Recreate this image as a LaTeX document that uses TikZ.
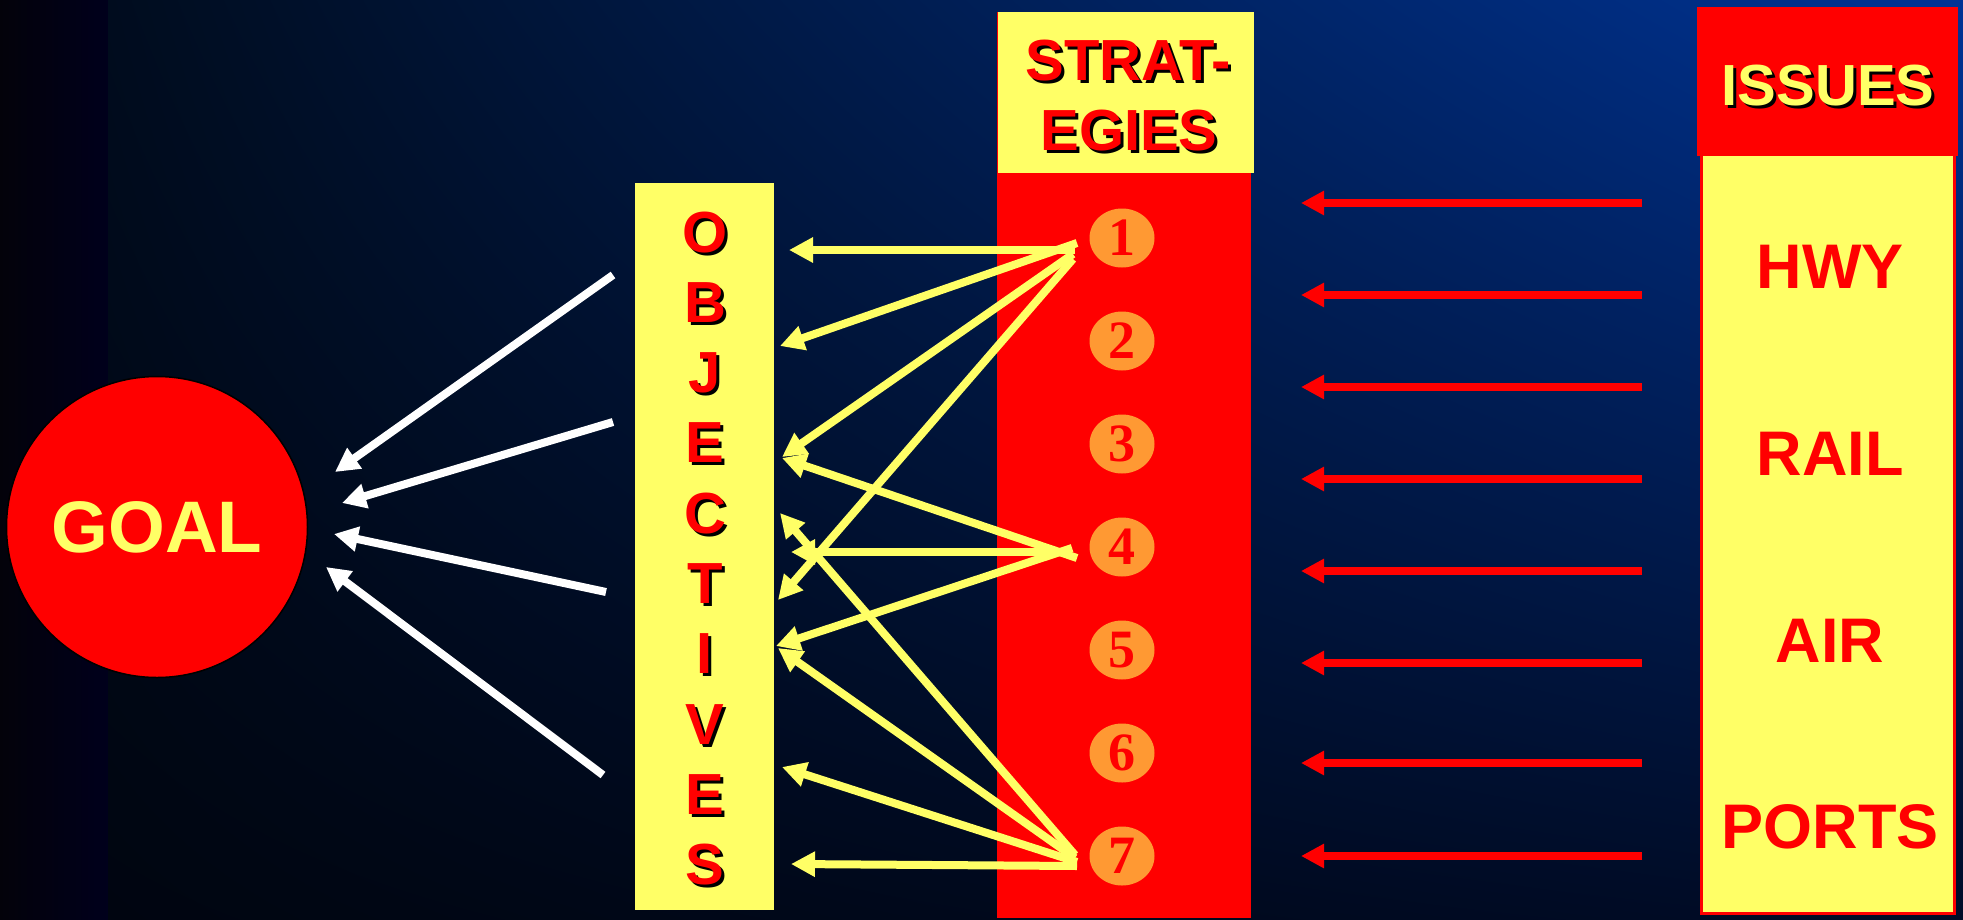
\documentclass[tikz,border=0pt]{standalone}
\usepackage{fontspec}
\setmainfont{Liberation Sans}
\newfontfamily\numfont{Liberation Serif}
\usetikzlibrary{arrows.meta,shapes.geometric,shadings}
\definecolor{ylw}{RGB}{255,255,102}
\definecolor{orng}{RGB}{255,153,51}
\definecolor{bgUL}{RGB}{0,12,30}
\definecolor{bgUR}{RGB}{0,52,150}
\definecolor{bgLL}{RGB}{0,5,16}
\definecolor{bgLR}{RGB}{0,12,40}
\definecolor{stripL}{RGB}{3,2,10}
\definecolor{stripR}{RGB}{0,0,28}
\tikzset{
  ybox/.style={rectangle, fill=ylw, inner sep=0pt, outer sep=0pt},
  rbox/.style={rectangle, fill=red, inner sep=0pt, outer sep=0pt},
  captxt/.style={anchor=base, inner sep=0pt, outer sep=0pt, font=\fontsize{58}{60}\selectfont\bfseries},
  isstxt/.style={anchor=base, inner sep=0pt, outer sep=0pt, text=red, font=\fontsize{63}{65}\selectfont\bfseries},
  numbub/.style={ellipse, fill=orng, minimum width=65pt, minimum height=59pt, inner sep=0pt, text=red, font=\fontsize{54}{56}\numfont\bfseries},
  redarr/.style={draw=red, line width=8pt, -{Triangle[length=23pt,width=23pt]}},
  yarr/.style={draw=ylw, line width=8pt, -{Triangle[length=24pt,width=24pt]}},
  warr/.style={draw=white, line width=8pt, -{Triangle[length=24pt,width=24pt]}}
}
\begin{document}
\begin{tikzpicture}[x=1pt,y=-1pt]
\useasboundingbox (0,0) rectangle (1963,919);
% background
\shade[left color=stripL, right color=stripR] (0,0) rectangle (108,919);
\shade[upper left=bgUL, upper right=bgUR, lower left=bgLL, lower right=bgLR] (108,0) rectangle (1963,919);

% goal
\node[circle, fill=red, draw=black, line width=1.5pt, minimum size=301pt, inner sep=0pt,
      text=ylw, font=\fontsize{73}{75}\selectfont\bfseries] (goal) at (157,527) {GOAL};

% objectives
\node[ybox, minimum width=139pt, minimum height=727pt] (obj) at (704.5,546.5) {};
\foreach \l [count=\i from 0] in {O,B,J,E,C,T,I,V,E,S}{
  \node[captxt, text=black] at (708,{255+70.3*\i}) {\l};
  \node[captxt, text=red] (ol\i) at (705,{252+70.3*\i}) {\l};
}

% strategies
\node[rbox, minimum width=254pt, minimum height=906pt] (strat) at (1124,465) {};
\node[ybox, minimum width=256pt, minimum height=161pt] (shead) at (1126,92.5) {};
\node[captxt, text=black] at (1131,83) {STRAT-};
\node[captxt, text=red] (st1) at (1128,80) {STRAT-};
\node[captxt, text=black] at (1132,153) {EGIES};
\node[captxt, text=red] (st2) at (1129,150) {EGIES};
\foreach \i in {1,...,7}{
  \node[numbub] (s\i) at (1122,{238+103*(\i-1)}) {\i};
}

% issues
\node[ybox, draw=red, line width=3pt, minimum width=253pt, minimum height=763pt] (ibox) at (1827.5,531.5) {};
\node[rbox, minimum width=261pt, minimum height=149pt] (ihead) at (1827.5,81.5) {};
\node[captxt, text=black] at (1831,108) {ISSUES};
\node[captxt, text=ylw] (ititle) at (1828,105) {ISSUES};
\node[isstxt] (hwy) at (1830,288) {HWY};
\node[isstxt] (rail) at (1830,475) {RAIL};
\node[isstxt] (air) at (1830,662) {AIR};
\node[isstxt] (ports) at (1830,848) {PORTS};

% red arrows
\foreach \y [count=\i] in {203,295,387,479,571,663,763,856}{
  \coordinate (rs\i) at (1642,\y);
  \coordinate (rt\i) at (1301,\y);
  \draw[redarr] (rs\i) -- (rt\i);
}

% yellow arrows
\foreach \n/\sx/\sy/\tx/\ty in {
  a/1075/250/789/250, b/1077/243/780/346, c/1073/254/782/457, d/1073/259/778/600,
  e/1068/552/791/552, f/1077/558/782/458, g/1072/548/776/646,
  h/1077/866/791/864, i/1077/862/782/767, j/1075/858/778/648, k/1075/855/780/513}{
  \coordinate (ys\n) at (\sx,\sy);
  \coordinate (yt\n) at (\tx,\ty);
  \draw[yarr] (ys\n) -- (yt\n);
}

% white arrows
\foreach \n/\sx/\sy/\tx/\ty in {
  1/613/275/335/472, 2/613/422/342/503, 3/606/592/334/534, 4/603/775/326/567}{
  \coordinate (ws\n) at (\sx,\sy);
  \coordinate (wt\n) at (\tx,\ty);
  \draw[warr] (ws\n) -- (wt\n);
}
\end{tikzpicture}
\end{document}
